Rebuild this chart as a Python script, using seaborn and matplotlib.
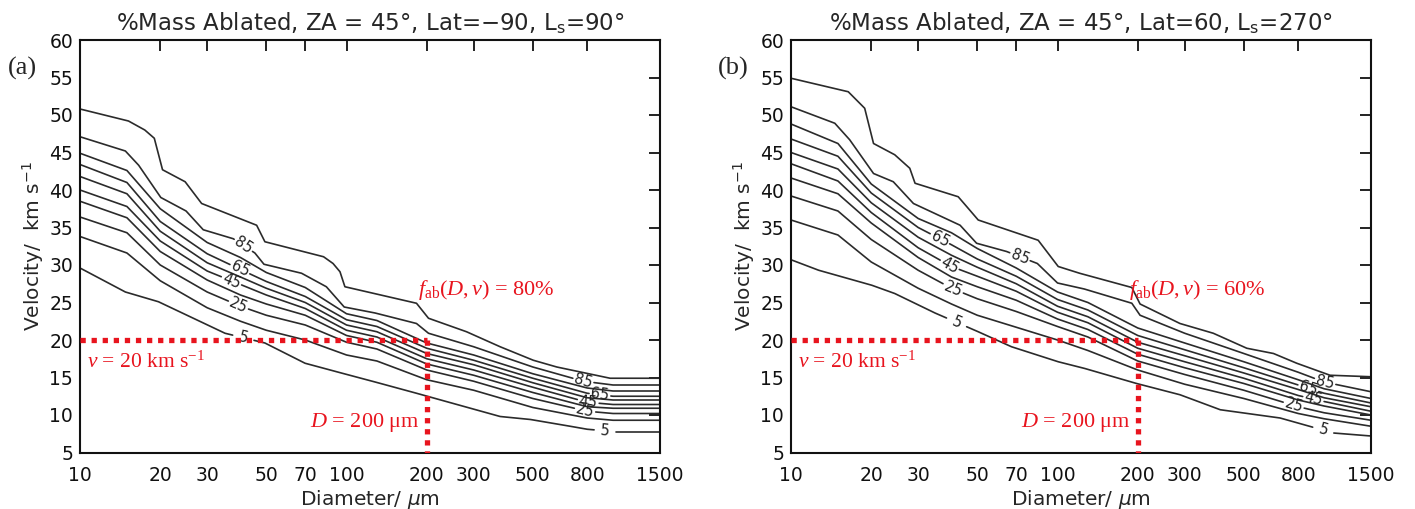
import numpy as np
import matplotlib
matplotlib.use("Agg")
import matplotlib.pyplot as plt
import seaborn as sns
from matplotlib.ticker import FixedLocator, NullLocator

sns.set_style("white")
plt.rcParams['font.family'] = ['DejaVu Sans']
plt.rcParams['mathtext.fontset'] = 'custom'
plt.rcParams['mathtext.rm'] = 'Liberation Serif'
plt.rcParams['mathtext.it'] = 'Liberation Serif:italic'

# ---- contour levels (% mass ablated) ----
levels = [95, 85, 75, 65, 55, 45, 35, 25, 15, 5]
mid_d = [10, 15, 20, 30, 40, 50, 70, 100, 130, 200, 300, 500, 800, 1000, 1500]

# panel (a): ZA=45, Lat=-90, Ls=90
a_d95 = [10, 15.2, 17.5, 19, 20.4, 24.8, 28.6, 46, 49.4, 82, 89, 94.5, 98.6, 183, 203, 282, 377, 502, 615, 975, 1500]
a_v95 = [50.8, 49.2, 48.0, 46.9, 42.7, 41.1, 38.2, 35.3, 33.1, 31.1, 30.2, 29.1, 27.1, 24.9, 22.9, 21.1, 19.1, 17.3, 16.4, 14.9, 14.9]
a_d85 = [10, 14.8, 16.6, 20.1, 25, 29, 37.6, 45.3, 49, 67.8, 84, 98, 128, 183, 203, 300, 500, 774, 1000, 1500]
a_v85 = [47.1, 45.2, 43.3, 39.0, 37.2, 34.7, 33.5, 31.6, 30.1, 28.9, 27.1, 24.4, 23.6, 22.2, 20.9, 19.1, 16.4, 14.5, 14.0, 14.0]
a_v75 = [44.9, 42.6, 37.5, 33.0, 31.0, 29.0, 27.0, 23.5, 22.6, 19.6, 18.0, 15.5, 13.6, 13.2, 13.2]
a_v65 = [43.4, 41.0, 35.8, 31.5, 29.4, 27.8, 25.8, 22.7, 21.8, 18.9, 17.3, 14.9, 12.9, 12.5, 12.5]
a_v55 = [41.8, 39.5, 34.5, 30.3, 28.4, 26.9, 25.0, 22.0, 21.1, 18.2, 16.7, 14.3, 12.3, 12.0, 12.0]
a_v45 = [40.0, 37.8, 33.2, 29.2, 27.4, 26.0, 24.2, 21.3, 20.4, 17.5, 16.0, 13.7, 11.7, 11.4, 11.4]
a_v35 = [38.5, 36.3, 31.8, 28.0, 26.0, 24.8, 23.3, 20.6, 19.7, 16.8, 15.3, 13.0, 11.1, 10.9, 10.9]
a_v25 = [36.4, 34.3, 30.0, 26.4, 24.5, 23.3, 22.0, 19.7, 18.8, 16.0, 14.5, 12.2, 10.5, 10.2, 10.2]
a_v15 = [33.8, 31.6, 27.9, 24.3, 22.5, 21.3, 20.0, 18.0, 17.2, 14.7, 13.3, 11.0, 9.6, 9.3, 9.3]
a_d5 = [10, 14.8, 19.7, 35, 49.4, 69.9, 95.6, 128, 183, 377, 490, 690, 800, 1000, 1500]
a_v5 = [29.6, 26.4, 25.1, 20.9, 19.6, 16.9, 15.6, 14.4, 12.9, 9.8, 9.4, 8.5, 8.1, 7.8, 7.8]
a_label_d = {85: [41, 774], 65: [39.8, 893], 45: [37, 807], 25: [39.3, 785], 5: [41, 933]}

# panel (b): ZA=45, Lat=60, Ls=270
b_d95 = [10, 16.4, 18.9, 20.4, 24.5, 27.9, 29.2, 42.4, 45.6, 50.4, 84.6, 100.6, 121, 190, 204, 288, 384, 513, 646, 790, 1053, 1500]
b_v95 = [54.9, 53.1, 50.9, 46.2, 44.7, 42.9, 40.9, 39.1, 37.8, 36.0, 33.3, 29.8, 28.9, 27.0, 24.8, 22.2, 20.9, 18.9, 18.2, 16.9, 15.3, 15.1]
b_d85 = [10, 14.6, 16.6, 20.4, 24.2, 28.8, 43.1, 49.7, 64.4, 84, 100, 126, 190, 204, 300, 500, 800, 1000, 1500]
b_v85 = [51.1, 48.9, 46.7, 42.2, 41.1, 38.2, 35.3, 32.9, 31.8, 30.2, 27.6, 26.8, 24.9, 23.3, 20.9, 18.2, 15.7, 14.4, 13.1]
b_v75 = [48.8, 46.2, 40.8, 36.2, 34.3, 32.2, 29.6, 26.4, 25.0, 21.6, 19.6, 17.1, 14.7, 13.5, 12.2]
b_v65 = [46.8, 44.5, 39.6, 35.0, 32.7, 30.8, 28.5, 25.4, 24.0, 20.6, 18.7, 16.3, 14.0, 12.9, 11.6]
b_v55 = [45.0, 42.8, 38.3, 33.7, 31.3, 29.7, 27.5, 24.5, 23.1, 19.7, 17.9, 15.6, 13.4, 12.3, 11.1]
b_v45 = [43.5, 41.2, 37.0, 32.3, 29.8, 28.5, 26.5, 23.7, 22.3, 18.9, 17.1, 14.9, 12.6, 11.8, 10.5]
b_v35 = [41.6, 39.5, 35.6, 31.0, 28.4, 27.1, 25.3, 22.8, 21.4, 18.1, 16.3, 14.2, 12.0, 11.2, 10.0]
b_v25 = [39.2, 37.2, 33.4, 29.3, 26.9, 25.5, 23.8, 21.8, 20.4, 17.2, 15.4, 13.3, 11.1, 10.3, 9.3]
b_v15 = [36.0, 34.0, 30.4, 26.9, 24.8, 23.3, 21.7, 20.0, 18.6, 16.0, 14.1, 12.2, 10.2, 9.5, 8.5]
b_d5 = [10, 12.7, 20.1, 24.5, 34.7, 50.4, 67.2, 100.6, 126.6, 198, 288, 408, 684, 1084, 1500]
b_v5 = [30.7, 29.3, 27.3, 26.2, 23.6, 21.1, 19.1, 17.1, 16.2, 14.2, 12.7, 10.7, 9.6, 7.6, 7.2]
b_label_d = {85: [72.3, 1009], 65: [36.2, 873], 45: [39.4, 912], 25: [40.6, 769], 5: [41.8, 993]}

x_ticks = [10, 20, 30, 50, 70, 100, 200, 300, 500, 800, 1500]
y_ticks = list(range(5, 61, 5))

ref_d = 200
ref_v = 20

panels = [
    dict(tag="(a)", title="%Mass Ablated, ZA = 45°, Lat=−90, L$_{\\mathsf{s}}$=90°", frac="80%",
         lines={95: (a_d95, a_v95), 85: (a_d85, a_v85), 75: (mid_d, a_v75), 65: (mid_d, a_v65),
                55: (mid_d, a_v55), 45: (mid_d, a_v45), 35: (mid_d, a_v35), 25: (mid_d, a_v25),
                15: (mid_d, a_v15), 5: (a_d5, a_v5)},
         labels=a_label_d),
    dict(tag="(b)", title="%Mass Ablated, ZA = 45°, Lat=60, L$_{\\mathsf{s}}$=270°", frac="60%",
         lines={95: (b_d95, b_v95), 85: (b_d85, b_v85), 75: (mid_d, b_v75), 65: (mid_d, b_v65),
                55: (mid_d, b_v55), 45: (mid_d, b_v45), 35: (mid_d, b_v35), 25: (mid_d, b_v25),
                15: (mid_d, b_v15), 5: (b_d5, b_v5)},
         labels=b_label_d),
]

W, H = 1415, 509
fig = plt.figure(figsize=(W / 100, H / 100), dpi=100)
line_col = "#2b2b2b"
red = "#e8141e"


def draw_level(ax, d, v, text, label_d, half_gap=11):
    # draws one contour line, broken where its labels sit
    pts = ax.transData.transform(np.column_stack([d, v]).astype(float))
    inv = ax.transData.inverted()
    cuts = []
    for at in label_d:
        xa = ax.transData.transform((at, 10))[0]
        ya = np.interp(xa, pts[:, 0], pts[:, 1])
        i = int(np.clip(np.searchsorted(pts[:, 0], xa), 1, len(pts) - 1))
        dx, dy = pts[i] - pts[i - 1]
        ang = np.degrees(np.arctan2(dy, dx))
        hx = half_gap * np.cos(np.radians(ang))
        cuts.append((xa - hx, xa + hx))
        xd, yd = inv.transform((xa, ya))
        ax.text(xd, yd, text, rotation=ang, rotation_mode='anchor', ha='center', va='center',
                fontsize=10.5, color="#222222")
    cuts.sort()
    start = pts[0, 0]
    spans = []
    for c0, c1 in cuts:
        spans.append((start, c0))
        start = c1
    spans.append((start, pts[-1, 0]))
    for xs, xe in spans:
        inside = pts[(pts[:, 0] > xs) & (pts[:, 0] < xe)]
        seg = np.vstack([[xs, np.interp(xs, pts[:, 0], pts[:, 1])], inside,
                         [xe, np.interp(xe, pts[:, 0], pts[:, 1])]])
        seg_d = inv.transform(seg)
        sns.lineplot(x=seg_d[:, 0], y=seg_d[:, 1], ax=ax, sort=False, estimator=None,
                     color=line_col, linewidth=1.2)


lefts = [80, 791]
for p, left in zip(panels, lefts):
    ax = fig.add_axes([left / W, 1 - 452.5 / H, 580 / W, 412.5 / H])
    ax.set_xscale("log")
    ax.set_xlim(10, 1500)
    ax.set_ylim(5, 60)
    for lev in levels:
        d, v = p["lines"][lev]
        draw_level(ax, d, v, str(lev), p["labels"].get(lev, []))

    # reference point
    ax.plot([10, ref_d], [ref_v, ref_v], color=red, lw=3.8, linestyle=(0, (1, 1.1)),
            dash_capstyle='butt', zorder=5)
    ax.plot([ref_d, ref_d], [ref_v, 5], color=red, lw=3.8, linestyle=(0, (1, 1.1)),
            dash_capstyle='butt', zorder=5)
    ax.text(10.6, 17.1, "$v$ = 20 km s$^{-1}$", color=red, fontsize=15.5, family="Liberation Serif",
            ha="left", va="center")
    ax.text(188, 9.0, "$D$ = 200 μm", color=red, fontsize=16, family="Liberation Serif",
            ha="right", va="center")
    ax.text(186, 26.7, "$f_{\\mathrm{ab}}(D,v)$ = " + p["frac"], color=red, fontsize=16,
            family="Liberation Serif", ha="left", va="center")

    ax.xaxis.set_major_locator(FixedLocator(x_ticks))
    ax.xaxis.set_minor_locator(NullLocator())
    ax.set_xticklabels([str(t) for t in x_ticks])
    ax.set_yticks(y_ticks)
    ax.tick_params(direction="in", top=True, right=True, length=8, width=1.3,
                   labelsize=13.5, colors="#111111")
    ax.tick_params(axis="x", pad=10)
    ax.tick_params(axis="y", pad=5)
    for s in ax.spines.values():
        s.set_linewidth(1.5)
        s.set_color("#111111")
    ax.set_xlabel("Diameter/ $\\mu$m", fontsize=14.5, labelpad=2, math_fontfamily="dejavusans")
    ax.set_ylabel("Velocity/  km s$^{-1}$", fontsize=14.5, labelpad=2, math_fontfamily="dejavusans")
    ax.set_title(p["title"], fontsize=16.5, pad=7, math_fontfamily="dejavusans")
    fig.text((left - 58) / W, 1 - 68 / H, p["tag"], fontsize=19, family="Liberation Serif",
             ha="center", va="center")

fig.savefig("out.png", dpi=100)
